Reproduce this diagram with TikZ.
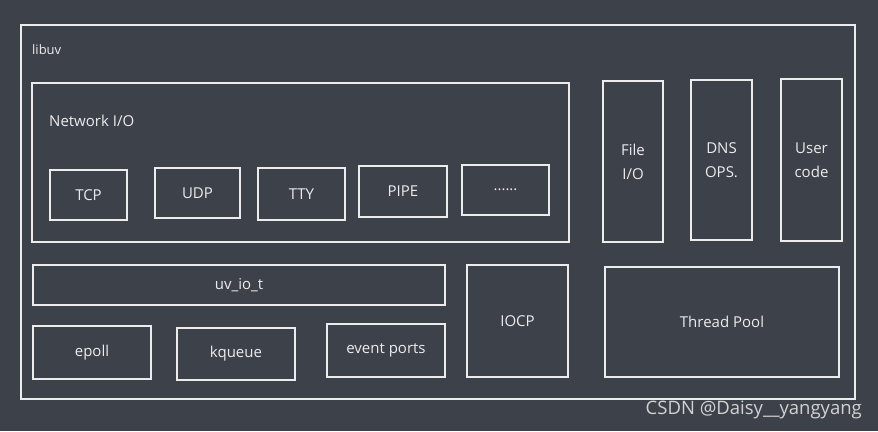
\documentclass[tikz,border=0pt]{standalone}
\usepackage{fontspec}
\setmainfont{Open Sans}
\definecolor{bg}{RGB}{61,65,74}
\definecolor{ink}{RGB}{236,236,236}
\definecolor{wm}{RGB}{210,210,210}
\begin{document}
\begin{tikzpicture}[x=1pt,y=-1pt,
  box/.style={draw=ink, line width=1.1pt, rectangle, inner sep=0pt, text=ink, font=\fontsize{15}{24}\selectfont, align=center},
  lbl/.style={text=ink, font=\fontsize{15}{18}\selectfont, inner sep=0pt, anchor=west}]
\fill[bg] (0,0) rectangle (878,431);
\useasboundingbox (0,0) rectangle (878,431);
% box by corners: (x1,y1)-(x2,y2)
\newcommand{\bx}[6]{\node[box, minimum width={#4-#2}, minimum height={#5-#3}] (#1) at ({(#2+#4)/2},{(#3+#5)/2}) {#6};}
\bx{libuv}{21}{25}{855}{399}{}
\node[lbl, font=\fontsize{13}{16}\selectfont] (libuvlbl) at (32,50) {libuv};
\bx{net}{32}{83}{569}{242}{}
\node[lbl] (netlbl) at (49,121) {Network I/O};
\bx{tcp}{50}{170}{127}{220}{TCP}
\bx{udp}{155}{168}{240}{218}{UDP}
\bx{tty}{258}{168}{345}{220}{TTY}
\bx{pipe}{359}{166}{447}{217}{PIPE}
\bx{more}{462}{165}{549}{215}{......}
\bx{file}{603}{81}{663}{242}{File\\I/O}
\bx{dns}{691}{80}{752}{240}{DNS\\OPS.}
\bx{user}{781}{79}{842}{241}{User\\code}
\bx{uvio}{33}{265}{445}{305}{uv\_io\_t}
\bx{epoll}{33}{326}{151}{379}{epoll}
\bx{kq}{177}{328}{295}{380}{kqueue}
\bx{evp}{327}{324}{445}{377}{event ports}
\bx{iocp}{467}{265}{568}{377}{IOCP}
\bx{tp}{605}{267}{839}{377}{Thread Pool}
\node[text=wm, font=\fontsize{18.5}{22}\selectfont, inner sep=0pt, anchor=east] (wmark) at (862,410) {CSDN @Daisy\_\_yangyang};
\end{tikzpicture}
\end{document}
